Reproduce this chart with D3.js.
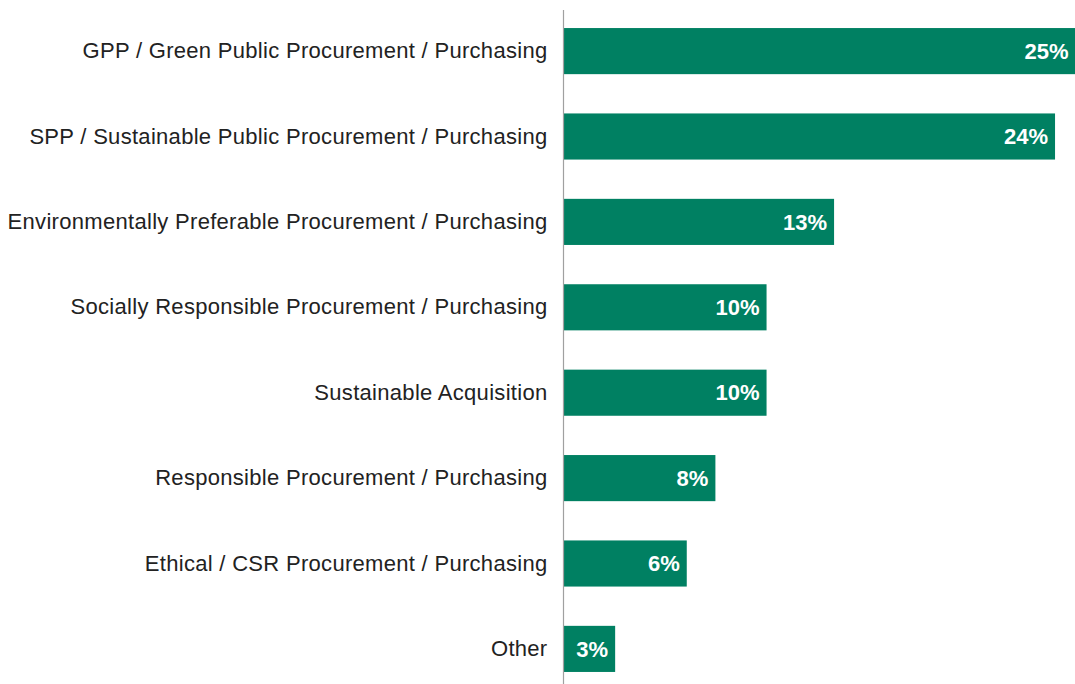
<!DOCTYPE html>
<html>
<head>
<meta charset="utf-8">
<script src="https://cdn.jsdelivr.net/npm/d3@7"></script>
<style>
  html, body { margin: 0; padding: 0; background: #fff; }
  svg { display: block; font-family: "Liberation Sans", Arial, Helvetica, sans-serif; }
</style>
</head>
<body>
<div id="chart"></div>
<script>
const categories = [
  "GPP / Green Public Procurement / Purchasing",
  "SPP / Sustainable Public Procurement / Purchasing",
  "Environmentally Preferable Procurement / Purchasing",
  "Socially Responsible Procurement / Purchasing",
  "Sustainable Acquisition",
  "Responsible Procurement / Purchasing",
  "Ethical / CSR Procurement / Purchasing",
  "Other"
];
const values = [25, 24, 13.2, 9.9, 9.9, 7.4, 6.0, 2.5];
const valueLabels = ["25%", "24%", "13%", "10%", "10%", "8%", "6%", "3%"];

const width = 1075, height = 684;
const x0 = 564;

const svg = d3.select("#chart").append("svg")
  .attr("width", width)
  .attr("height", height);

const xScale = d3.scaleLinear([0, 25], [x0, 1075.5]);
const yScale = d3.scaleBand(categories, [8.4, 691.6])
  .paddingInner(0.46)
  .paddingOuter(0.23);

// bars
svg.append("g")
   .selectAll("rect")
   .data(values)
   .join("rect")
   .attr("x", xScale(0))
   .attr("y", (d, i) => yScale(categories[i]))
   .attr("width", d => xScale(d) - xScale(0))
   .attr("height", yScale.bandwidth())
   .attr("fill", "#008062");

// value labels inside bars
svg.append("g")
   .selectAll("text")
   .data(values)
   .join("text")
   .attr("x", d => xScale(d) - 7)
   .attr("y", (d, i) => yScale(categories[i]) + yScale.bandwidth() / 2)
   .attr("dy", "0.35em")
   .attr("text-anchor", "end")
   .attr("fill", "#fff")
   .style("font-size", "22px")
   .style("font-weight", "bold")
   .text((d, i) => valueLabels[i]);

// category axis
const yAxis = d3.axisLeft(yScale).tickSize(0).tickPadding(16);
svg.append("g")
   .attr("transform", "translate(" + (x0 - 0.5) + ",0)")
   .call(yAxis)
   .call(g => g.select(".domain").remove())
   .call(g => g.selectAll("text")
               .attr("fill", "#222")
               .style("font-size", "22px")
               .style("letter-spacing", "0.3px")
               .style("font-family", "inherit"));

svg.append("line")
   .attr("x1", x0 - 0.5).attr("x2", x0 - 0.5)
   .attr("y1", 10).attr("y2", height)
   .attr("stroke", "#a0a0a0")
   .attr("stroke-width", 1.2);
</script>
</body>
</html>
